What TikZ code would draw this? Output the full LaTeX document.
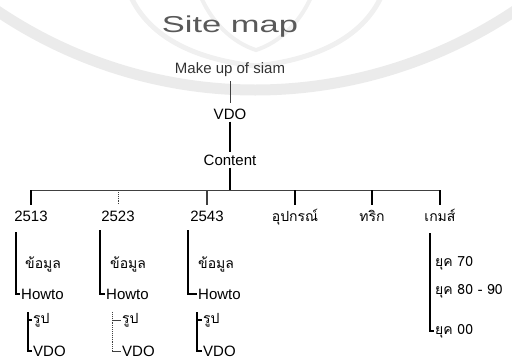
\documentclass[tikz,border=0pt]{standalone}
\usepackage{fontspec}
\setmainfont{Liberation Sans}
\newfontfamily\thaifont[Script=Thai]{Loma}
\usetikzlibrary{positioning}

\begin{document}
\begin{tikzpicture}[
            x=1pt, y=-1pt,
            on grid,
            node distance = 44pt,
            font=\fontsize{15}{17}\selectfont,
            inner sep=2pt
        ]

        \tikzstyle{link}=[line width=1.6pt, black]
        \tikzstyle{bus}=[line width=0.9pt, black!75]
        \tikzstyle{brk}=[line width=1.8pt, black]
        \tikzstyle{leaf}=[anchor=west, inner sep=1pt]
        \tikzstyle{th}=[font=\thaifont\fontsize{14}{16}\selectfont]

        \useasboundingbox (0,0) rectangle (512,362);
        \clip (0,0) rectangle (512,362);

        % faded watermark behind the title
        \draw[black!8, line width=11pt] (-10,6) .. controls (150,118) and (360,118) .. (522,6);
        \draw[black!6, line width=5pt] (130,-5) .. controls (150,40) and (200,60) .. (256,66)
            .. controls (312,60) and (362,40) .. (382,-5);
        \draw[black!6, line width=4pt] (200,-5) .. controls (215,30) and (240,45) .. (256,50)
            .. controls (272,45) and (297,30) .. (312,-5);

        % main chain
        \node (title) at (230,27) {\fontsize{23}{26}\selectfont\color{black!65}\scalebox{1.5}[1]{Site map}};
        \node (make) at (230,70) {\color{black!80}Make up of siam};
        \node (vdo) [below=of make] {VDO};
        \node (content) [below=46pt of vdo] {Content};
        \coordinate (bus) at (230,190);

        \draw[bus, shorten <=2pt, shorten >=3pt] (make) -- (vdo);
        \draw[link] (vdo) -- (content);
        \draw[link] (content) -- (bus);

        % first level
        \node[anchor=base] (y2513) at (31,221) {2513};
        \node[anchor=base] (y2523) at (118,221) {2523};
        \node[anchor=base] (y2543) at (207,221) {2543};
        \node[anchor=base, th] (tool) at (295,221) {อุปกรณ์};
        \node[anchor=base, th] (trick) at (372,221) {ทริก};
        \node[anchor=base, th] (game) at (440,221) {เกมส์};

        \draw[bus] (bus -| y2513) -- (bus -| game);
        \draw[link] (bus -| y2513) -- ++(0,15);
        \draw[bus, densely dotted] (bus -| y2523) -- ++(0,15);
        \draw[bus, line width=1.2pt] (bus -| y2543) -- ++(0,15);
        \draw[link] (bus -| tool) -- ++(0,15);
        \draw[link] (bus -| trick) -- ++(0,15);
        \draw[link] (bus -| game) -- ++(0,15);

        % 2513
        \coordinate (b1) at (16,232);
        \node[leaf, th] (info1) at (24,264) {ข้อมูล};
        \node[leaf] (how1) at (20,294) {Howto};
        \draw[brk] (b1) |- (how1.west);
        \coordinate (s1) at (28,312);
        \node[leaf, th] (pic1) at (32,320) {รูป};
        \node[leaf] (vid1) at (32,351) {VDO};
        \draw[brk] (s1) |- (vid1.west);
        \draw[brk] (s1 |- pic1) -- (pic1.west);

        % 2523
        \coordinate (b2) at (100,230);
        \node[leaf, th] (info2) at (109,264) {ข้อมูล};
        \node[leaf] (how2) at (105,294) {Howto};
        \draw[brk] (b2) |- (how2.west);
        \coordinate (s2) at (112,312);
        \node[leaf, th] (pic2) at (121,320) {รูป};
        \node[leaf] (vid2) at (121,351) {VDO};
        \draw[bus, densely dotted] (s2) -- (s2 |- vid2);
        \draw[bus] (s2 |- pic2) -- (pic2.west);
        \draw[bus] (s2 |- vid2) -- (vid2.west);

        % 2543
        \coordinate (b3) at (188,230);
        \node[leaf, th] (info3) at (197,264) {ข้อมูล};
        \node[leaf] (how3) at (197,294) {Howto};
        \draw[brk] (b3) |- (how3.west);
        \coordinate (s3) at (197,312);
        \node[leaf, th] (pic3) at (202,320) {รูป};
        \node[leaf] (vid3) at (202,351) {VDO};
        \draw[brk] (s3) |- (vid3.west);
        \draw[brk] (s3 |- pic3) -- (pic3.west);

        % games
        \coordinate (b4) at (430,233);
        \node[leaf, th] (age70) at (434,263) {ยุค 70};
        \node[leaf, th] (age80) at (434,291) {ยุค 80 - 90};
        \node[leaf, th] (age00) at (434,331) {ยุค 00};
        \draw[brk] (b4) |- (age00.west);

\end{tikzpicture}
\end{document}
